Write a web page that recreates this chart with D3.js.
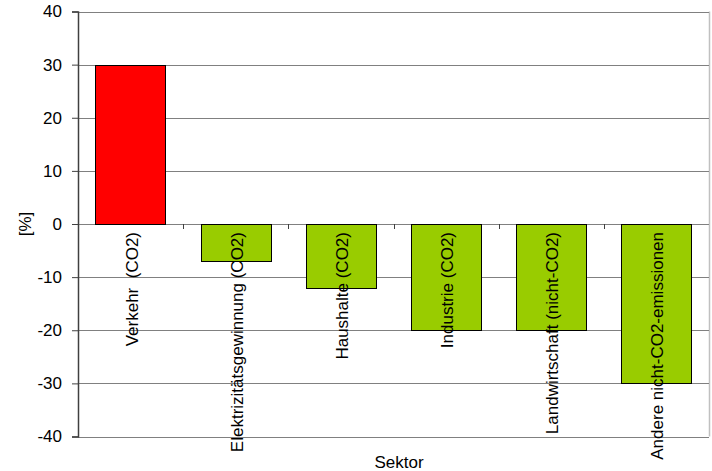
<!DOCTYPE html>
<html>
<head>
<meta charset="utf-8">
<script src="https://cdn.jsdelivr.net/npm/d3@7"></script>
<style>
  body { margin: 0; background: #fff; }
  svg { display: block; font-family: "Liberation Sans", Arial, sans-serif; }
</style>
</head>
<body>
<svg></svg>
<script>
// Größe
var width = 712;
var height = 471;
var svg = d3.select("svg").attr("width", width).attr("height", height);

// Daten
var sectors = ["Verkehr  (CO2)", "Elektrizitätsgewinnung (CO2)", "Haushalte (CO2)",
               "Industrie (CO2)", "Landwirtschaft (nicht-CO2)", "Andere nicht-CO2-emissionen"];
var changes = [30, -7, -12, -20, -20, -30];
var barColors = ["#ff0000", "#99cc00", "#99cc00", "#99cc00", "#99cc00", "#99cc00"];
var yTicks = [40, 30, 20, 10, 0, -10, -20, -30, -40];

// Plotbereich (nicht "top" nennen, window.top ist schreibgeschützt)
var plotLeft = 78, plotRight = 709, plotTop = 11.5, plotBottom = 436.5;

var x = d3.scaleBand().domain(sectors).range([plotLeft, plotRight]).paddingInner(0.33).paddingOuter(0.165);
var xBand = d3.scaleBand().domain(sectors).range([plotLeft, plotRight]);
var y = d3.scaleLinear().domain([-40, 40]).range([plotBottom, plotTop]);

// Rahmen rechts
svg.append("line")
    .attr("x1", plotRight + 0.5).attr("x2", plotRight + 0.5)
    .attr("y1", plotTop).attr("y2", plotBottom)
    .attr("stroke", "#c0c0c0").attr("stroke-width", 1.5);

// Gitterlinien
svg.append("g").selectAll("line")
    .data(yTicks)
    .enter().append("line")
    .attr("x1", plotLeft).attr("x2", plotRight)
    .attr("y1", d => Math.round(y(d)) + 0.5)
    .attr("y2", d => Math.round(y(d)) + 0.5)
    .attr("stroke", "#808080")
    .attr("stroke-width", 1.2);

// Balken
svg.append("g").selectAll("rect")
    .data(changes)
    .enter().append("rect")
    .attr("x", (d, i) => Math.round(x(sectors[i])) + 0.5)
    .attr("y", d => Math.round(y(Math.max(0, d))) + 0.5)
    .attr("width", Math.round(x.bandwidth()))
    .attr("height", d => Math.round(Math.abs(y(d) - y(0))))
    .attr("fill", (d, i) => barColors[i])
    .attr("stroke", "#000")
    .attr("stroke-width", 1);

// Y-Achse (Bindestrich statt Minuszeichen)
var yAxis = svg.append("g")
    .attr("transform", "translate(" + plotLeft + ",0)")
    .call(d3.axisLeft(y).tickValues(yTicks).tickSize(6).tickPadding(10).tickFormat(d => String(d)));
yAxis.select(".domain").attr("stroke", "#404040").attr("stroke-width", 1.5);
yAxis.selectAll(".tick line").attr("stroke", "#404040");
yAxis.selectAll("text").attr("font-size", "17px").attr("fill", "#000")
    .attr("font-family", "Liberation Sans, Arial, sans-serif");

// Kategorie-Ticks an der Nulllinie
svg.append("g").selectAll("line")
    .data(sectors.slice(1))
    .enter().append("line")
    .attr("x1", d => Math.round(xBand(d)) + 0.5)
    .attr("x2", d => Math.round(xBand(d)) + 0.5)
    .attr("y1", y(0)).attr("y2", y(0) + 5)
    .attr("stroke", "#404040");

// Kategorie-Beschriftungen (gedreht)
svg.append("g").selectAll("text")
    .data(sectors)
    .enter().append("text")
    .attr("transform", d => "translate(" + (xBand(d) + xBand.bandwidth() / 2 + 7) + "," + (y(0) + 8) + ") rotate(-90)")
    .attr("text-anchor", "end")
    .attr("font-size", "17px")
    .attr("fill", "#000")
    .style("white-space", "pre")
    .text(d => d);

// Achsentitel
svg.append("text")
    .attr("transform", "translate(31," + y(0) + ") rotate(-90)")
    .attr("text-anchor", "middle")
    .attr("font-size", "17px")
    .text("[%]");

svg.append("text")
    .attr("x", 399).attr("y", 468)
    .attr("text-anchor", "middle")
    .attr("font-size", "17px")
    .text("Sektor");
</script>
</body>
</html>
